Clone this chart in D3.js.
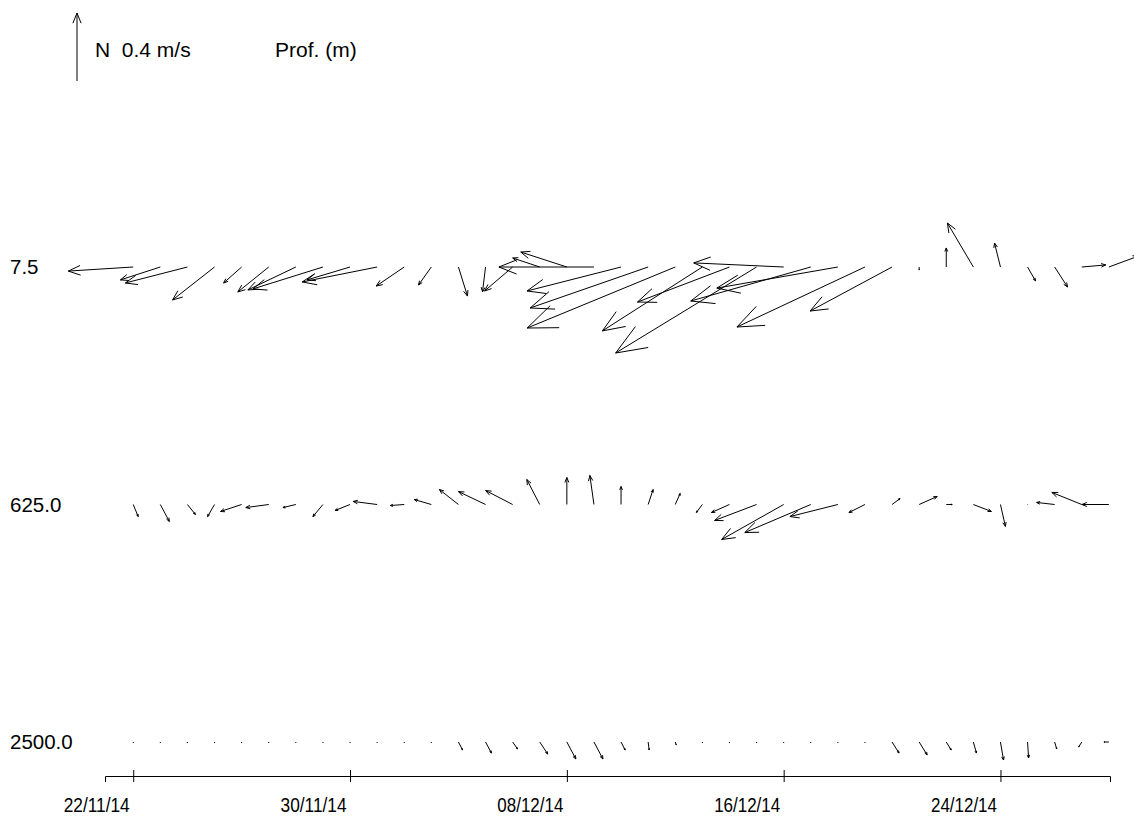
<!DOCTYPE html>
<html>
<head>
<meta charset="utf-8">
<script src="https://d3js.org/d3.v7.min.js"></script>
<style>
body{margin:0;background:#fff;}
text{font-family:"Liberation Sans",Arial,sans-serif;fill:#000;}
</style>
</head>
<body>
<script>
//depths of the current meters (m)
var depths = ["7.5", "625.0", "2500.0"];
//one vector per day, 22/11/14 to 28/12/14
var days = d3.timeDay.range(new Date(2014, 10, 22), new Date(2014, 11, 29));
//east (u) and north (v) components in cm/s
var u75 = [-38.2,-23.5,-36.5,-24.7,-10.6,-18.2,-28.2,-41.2,-25.3,-44.1,-16.5,-7.6,5.3,-1.8,-16.5,-15.9,-27.1,-55.9,-55.3,-69.4,-87.1,-58.8,-54.1,-82.9,-52.9,-70.6,-71.2,-75.3,-48.2,0,0,-15.3,-3.5,4.7,7.6,14.1,17.6];
var v75 = [-2.4,-7.6,-9.4,-19.4,-9.4,-14.7,-13.5,-12.9,-7.6,-8.8,-11.2,-10.6,-17.1,-14.7,-14.1,5.3,8.8,0,-14.1,-24.1,-35.9,-37.6,-20.6,-50.6,2.4,-20.0,-12.4,-35.3,-25.9,-1.8,11.2,25.9,14.1,-8.2,-11.8,1.2,6.5];
var u625 = [2.9,5.3,4.7,-4.1,-12.4,-13.5,-7.6,-5.9,-8.8,-14.1,-8.2,-10.0,-11.2,-15.9,-15.9,-7.6,0,-2.4,0,2.9,2.9,-3.5,-10.6,-24.7,-36.5,-38.8,-28.2,-9.4,4.7,10.6,3.5,10.6,2.9,0.3,-10.6,-17.6,-15.9];
var v625 = [-7.1,-10.0,-5.9,-7.1,-4.1,-1.8,-1.8,-7.1,-3.5,1.8,-0.6,2.9,8.8,7.6,8.2,14.7,15.9,17.1,10.6,8.8,6.5,-4.7,-4.7,-9.4,-20.6,-16.5,-7.1,-4.7,3.5,4.7,0,-4.1,-12.9,0,1.2,7.1,0];
var u2500 = [0,0,0,0,0,0,0,0,0,0,0,0,2.4,3.5,2.9,4.7,5.3,5.3,2.4,0.6,0.6,0,0,0,0,0,0,0,4.1,4.7,2.9,1.8,1.8,0.6,1.2,-1.8,-2.9];
var v2500 = [-0.6,-0.6,-0.6,-0.6,-0.6,-0.6,-0.6,-0.6,-0.6,-0.6,-0.6,-0.6,-4.7,-6.5,-4.1,-7.1,-10.0,-10.0,-4.7,-4.7,-1.8,-0.6,-0.6,-0.6,-0.6,-0.6,-0.6,-0.6,-6.5,-7.6,-4.7,-6.5,-10.6,-9.4,-4.1,-2.9,0];
//axis ticks every 8 days
var tickDates = [new Date(2014, 10, 22), new Date(2014, 10, 30), new Date(2014, 11, 8), new Date(2014, 11, 16), new Date(2014, 11, 24)];
//reference vector of the legend
var refSpeed = 40;

var width = 1134, height = 816;
var svg = d3.select("body")
.append("svg")
.attr("width", width)
.attr("height", height);

var x = d3.scaleTime()
.domain([new Date(2014, 10, 20, 23), new Date(2014, 11, 28, 1)])
.range([105, 1110]);
var y = d3.scalePoint().domain(depths).range([267, 742]);
//cm/s -> px, same factor on both components
var k = d3.scaleLinear().domain([0, refSpeed]).range([0, 68]);

//one line plus two barbs
function arrow(x0, y0, x1, y1, head){
  var dx = x1 - x0, dy = y1 - y0, L = Math.sqrt(dx*dx + dy*dy);
  var p = d3.path();
  p.moveTo(x0, y0);
  p.lineTo(x1, y1 + (L < 0.5 ? 1 : 0));
  if(L > 2){
    var h = head || L*0.2, a = Math.atan2(dy, dx), w = 0.38;
    p.moveTo(x1 - h*Math.cos(a - w), y1 - h*Math.sin(a - w));
    p.lineTo(x1, y1);
    p.lineTo(x1 - h*Math.cos(a + w), y1 - h*Math.sin(a + w));
  }
  return p.toString();
}

var rows = [
  {depth: depths[0], u: u75, v: v75},
  {depth: depths[1], u: u625, v: v625},
  {depth: depths[2], u: u2500, v: v2500}
];

rows.forEach(function(r){
  var y0 = y(r.depth);
  svg.append("g")
  .selectAll("path")
  .data(days)
  .enter().append("path")
  .attr("fill", "none")
  .attr("stroke", "#000")
  .attr("stroke-width", 1)
  .attr("d", function(d, i){
    var x0 = x(d);
    return arrow(x0, y0, x0 + k(r.u[i]), y0 - k(r.v[i]));
  });

  svg.append("text")
  .attr("x", 10)
  .attr("y", y0)
  .attr("dy", "0.36em")
  .style("font-size", "20.5px")
  .text(r.depth);
});

//legend: north arrow and depth title
svg.append("path")
.attr("fill", "none")
.attr("stroke", "#000")
.attr("d", arrow(77, 81, 77, 81 - k(refSpeed), 11));

svg.append("text")
.attr("x", 95)
.attr("y", 57)
.style("font-size", "21px")
.style("white-space", "pre")
.text("N  0.4 m/s");

svg.append("text")
.attr("x", 275)
.attr("y", 57)
.style("font-size", "21px")
.text("Prof. (m)");

//time axis
var xAxis = d3.axisBottom(x)
.tickValues(tickDates)
.tickFormat(d3.timeFormat("%d/%m/%y"))
.tickSizeOuter(0)
.tickSize(6);

var gx = svg.append("g")
.attr("transform", "translate(0,776)")
.call(xAxis);
gx.attr("font-family", null).attr("font-size", null);
gx.select(".domain").attr("stroke", "#000");
gx.selectAll(".tick line").attr("y1", -6).attr("stroke", "#000");
//labels sit just left of their tick, narrow type
gx.selectAll(".tick text")
.attr("x", -4)
.attr("y", 36)
.attr("dy", null)
.attr("text-anchor", "end")
.attr("textLength", 66)
.attr("lengthAdjust", "spacingAndGlyphs")
.style("font-size", "20px")
.attr("fill", "#000");
</script>
</body>
</html>
